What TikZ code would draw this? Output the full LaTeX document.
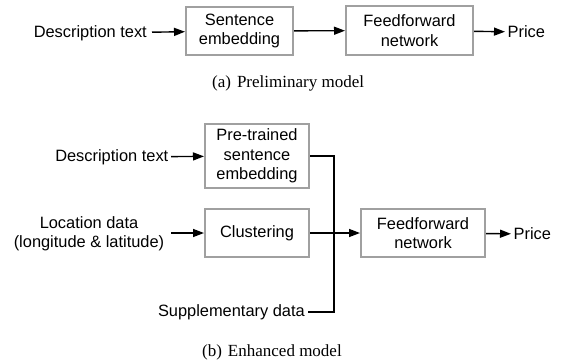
\documentclass[tikz,border=0pt]{standalone}
\usepackage{fontspec}
\setmainfont{Liberation Serif}
\setsansfont{Liberation Sans}
\usetikzlibrary{arrows.meta}
\definecolor{boxgray}{HTML}{A0A0A0}
\begin{document}
\begin{tikzpicture}[x=1pt,y=-1pt,
  diagtext/.style={font=\sffamily\fontsize{16.4}{19.5}\selectfont, align=center, inner sep=2.5pt},
  blockbox/.style={diagtext, draw=boxgray, line width=2pt, fill=white},
  flow/.style={line width=1.4pt, -{Triangle[length=11pt,width=8pt]}},
  wire/.style={line width=1.4pt},
  caption/.style={font=\rmfamily\fontsize{17}{20}\selectfont, inner sep=0pt, anchor=west}]
  \useasboundingbox (0,0) rectangle (567,362);

  % (a) preliminary model
  \node[diagtext, anchor=east, inner xsep=5pt] (desc1) at (152,33) {Description text};
  \node[blockbox, minimum width=107pt, minimum height=48pt] (sent1) at (239.5,31) {Sentence\\embedding};
  \node[blockbox, minimum width=127pt, minimum height=49pt] (ff1) at (409.5,30.5) {Feedforward\\network};
  \node[diagtext, anchor=west] (price1) at (505,32) {Price};
  \draw[flow] (desc1) -- (sent1);
  \draw[flow] (sent1) -- (ff1);
  \draw[flow] (ff1) -- (price1);
  \node[caption] (capa) at (212,83) {(a)\hspace{0.35em}Preliminary model};

  % (b) enhanced model
  \node[diagtext, anchor=east] (desc2) at (171,157) {Description text};
  \node[blockbox, minimum width=104pt, minimum height=64pt] (pre) at (257,156) {Pre-trained\\sentence\\embedding};
  \node[diagtext, inner xsep=7pt] (loc) at (89,234) {Location data\\(longitude \& latitude)};
  \node[blockbox, minimum width=104pt, minimum height=48pt] (clus) at (257,233) {Clustering};
  \node[blockbox, minimum width=124pt, minimum height=48pt] (ff2) at (423,233) {Feedforward\\network};
  \node[diagtext, anchor=west] (price2) at (511,234) {Price};
  \node[diagtext, anchor=east] (supp) at (307.5,312) {Supplementary data};
  \coordinate (join) at (334,312);

  \draw[flow] (loc.east |- clus.west) -- (clus.west);
  \draw[flow] (desc2) -- (pre);
  \draw[wire] (pre.east) -| (join) -- (supp.east);
  \draw[flow] (clus) -- (ff2);
  \draw[flow] (ff2) -- (price2);
  \node[caption] (capb) at (202,352) {(b)\hspace{0.35em}Enhanced model};
\end{tikzpicture}
\end{document}
